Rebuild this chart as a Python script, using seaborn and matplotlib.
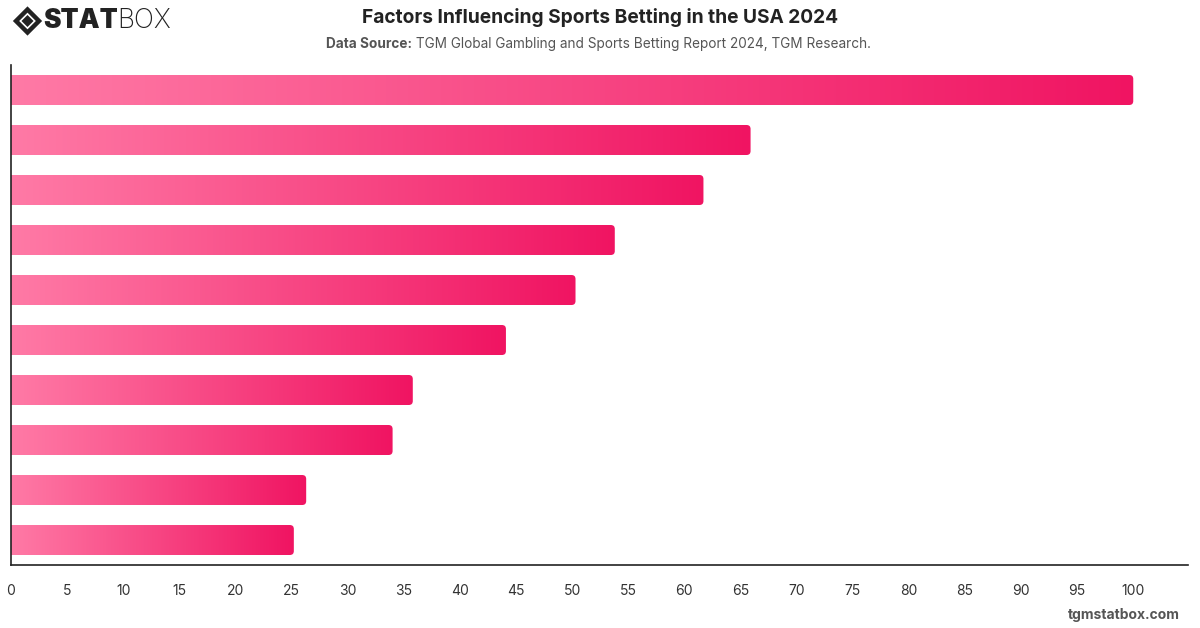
import numpy as np
import pandas as pd
import matplotlib
matplotlib.use("Agg")
import matplotlib.pyplot as plt
import seaborn as sns
from matplotlib.patches import FancyBboxPatch, Polygon

# datos (sin etiquetas de categoria visibles)
posiciones = list(range(10))
valores = [100, 65.9, 61.7, 53.8, 50.3, 44.1, 35.8, 34.0, 26.3, 25.2]
ticks_x = list(range(0, 101, 5))

titulo = "Factors Influencing Sports Betting in the USA 2024"
fuente_bold = "Data Source:"
fuente_texto = " TGM Global Gambling and Sports Betting Report 2024, TGM Research."

color_ini = np.array([255, 122, 166]) / 255
color_fin = np.array([240, 20, 98]) / 255

df = pd.DataFrame({"pos": [str(p) for p in posiciones], "valor": valores})

sns.set_theme(style="white")
plt.rcParams["font.family"] = ["Inter", "DejaVu Sans"]

fig = plt.figure(figsize=(12, 6.28), dpi=100)
ax = fig.add_axes([0.0092, 0.1003, 0.981, 0.7962])

sns.barplot(data=df, x="valor", y="pos", ax=ax, color=color_fin, width=0.6,
            orient="h")

# degradado horizontal por barra, con esquinas redondeadas a la derecha
grad = np.linspace(0, 1, 256)
img = color_ini[None, :] * (1 - grad[:, None]) + color_fin[None, :] * grad[:, None]
img = img[None, :, :]
for bar in list(ax.patches):
    x0, y0 = bar.get_x(), bar.get_y()
    w, h = bar.get_width(), bar.get_height()
    bar.set_visible(False)
    clip = FancyBboxPatch((x0 - 2, y0), w + 2, h,
                          boxstyle="round,pad=0,rounding_size=0.36",
                          mutation_aspect=0.22, transform=ax.transData,
                          facecolor="none", edgecolor="none")
    ax.add_patch(clip)
    im = ax.imshow(img, extent=[x0, x0 + w, y0 + h, y0], aspect="auto",
                   interpolation="bilinear", zorder=2)
    im.set_clip_path(clip)
ax.set_xlim(0, 104.9)
ax.set_ylim(9.5, -0.5)

ax.set_xticks(ticks_x)
ax.set_xticklabels([str(t) for t in ticks_x], fontsize=10, color="#333333")
ax.tick_params(axis="x", length=0, pad=14)
ax.set_yticks([])
ax.set_xlabel("")
ax.set_ylabel("")
for lado in ["top", "right"]:
    ax.spines[lado].set_visible(False)
for lado in ["left", "bottom"]:
    ax.spines[lado].set_color("#222222")
    ax.spines[lado].set_linewidth(1.2)

# titulos
fig.text(0.5, 0.972, titulo, ha="center", va="center", fontsize=13.8,
         fontweight="bold", color="#222222")
t1 = fig.text(0.2715, 0.93, fuente_bold, ha="left", va="center", fontsize=9.8,
              fontweight="bold", color="#555555")
fig.canvas.draw()
bb = t1.get_window_extent()
fig.text(bb.x1 / 1200, 0.93, fuente_texto, ha="left", va="center", fontsize=9.8,
         color="#555555")

# logo
voltear = matplotlib.transforms.Affine2D().scale(1, -1).translate(0, 628)
rombo = Polygon([[16, 21], [27.5, 9.5], [39, 21], [27.5, 32.5]], closed=True,
                fill=False, edgecolor="#222222", linewidth=3.2)
rombo_in = Polygon([[21.5, 21], [27.5, 15], [33.5, 21], [27.5, 27]], closed=True,
                   facecolor="#222222", edgecolor="none")
for p in (rombo, rombo_in):
    p.set_transform(voltear)
    fig.patches.append(p)
t2 = fig.text(43 / 1200, 1 - 21 / 628, "STAT", ha="left", va="center",
              fontsize=19, fontweight="black", color="#222222")
fig.canvas.draw()
bb2 = t2.get_window_extent()
fig.text(bb2.x1 / 1200, 1 - 21 / 628, "BOX", ha="left", va="center",
         fontsize=19, fontweight="light", color="#222222")

fig.text(0.983, 0.021, "tgmstatbox.com", ha="right", va="center", fontsize=10,
         fontweight="bold", color="#555555")

fig.savefig("out.png", dpi=100)
